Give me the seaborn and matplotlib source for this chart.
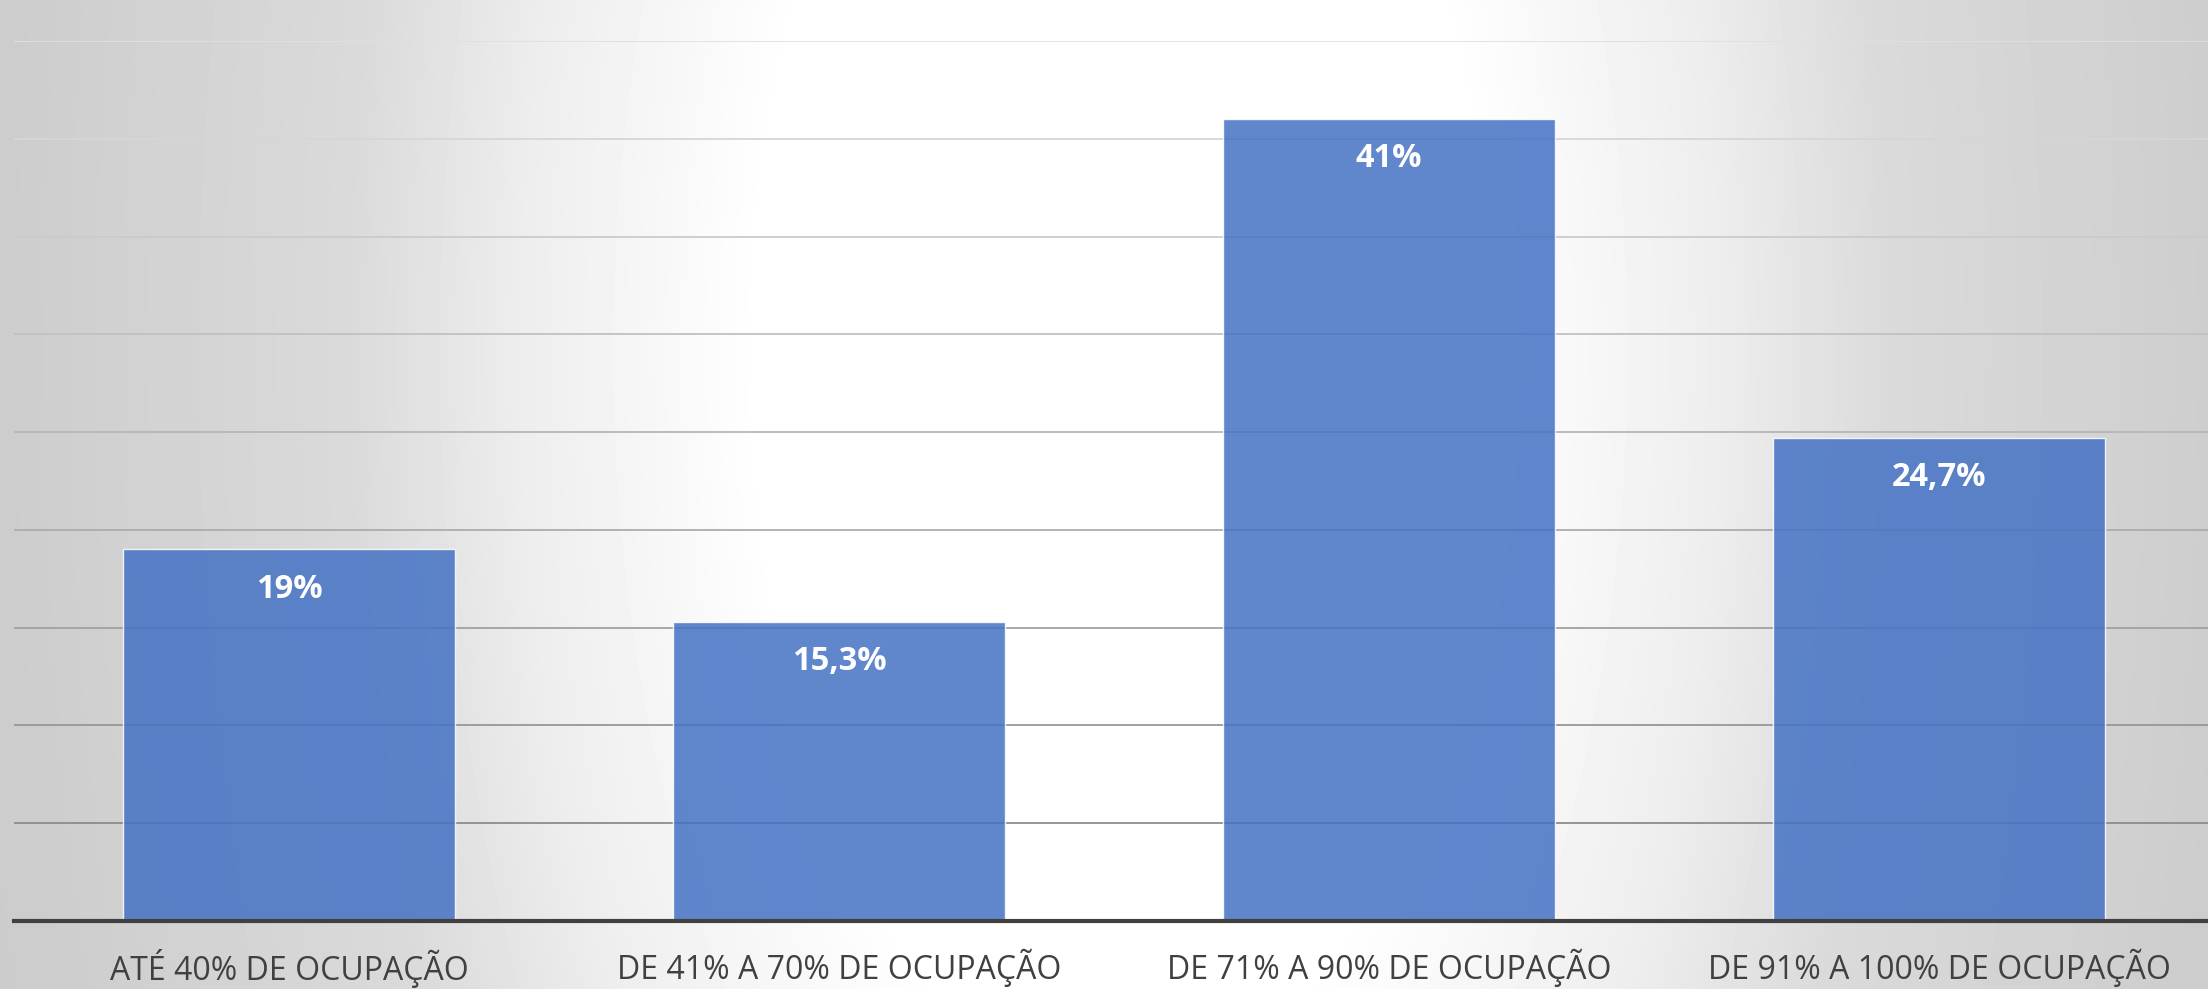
import numpy as np
import pandas as pd
import matplotlib
matplotlib.use("Agg")
import matplotlib.pyplot as plt
import seaborn as sns

# ---- data ----
categories = ["ATÉ 40% DE OCUPAÇÃO", "DE 41% A 70% DE OCUPAÇÃO",
              "DE 71% A 90% DE OCUPAÇÃO", "DE 91% A 100% DE OCUPAÇÃO"]
values = [19.0, 15.3, 41.0, 24.7]
value_labels = ["19%", "15,3%", "41%", "24,7%"]
grid_levels = [5, 10, 15, 20, 25, 30, 35, 40, 45]

sns.set_theme(style="white")
plt.rcParams['font.family'] = ['Open Sans', 'DejaVu Sans']

W, H, DPI = 2208, 989, 100
fig = plt.figure(figsize=(W / DPI, H / DPI), dpi=DPI)

# ---- radial gradient background ----
bg = fig.add_axes([0, 0, 1, 1], zorder=-10)
yy, xx = np.mgrid[0:H, 0:W]
d = np.sqrt((xx - 1120.0) ** 2 + ((yy - 350.0) * 0.5) ** 2)
val = np.interp(d, [0, 360, 600, 770, 1100, 1400], [1, 1, 0.93, 0.855, 0.805, 0.78])
bg.imshow(val, cmap="gray", vmin=0, vmax=1, aspect="auto",
          extent=[0, W, H, 0], interpolation="bilinear")
bg.set_axis_off()

# ---- main axes ----
ax = fig.add_axes([14 / W, 68 / H, 2200 / W, 880 / H])
ax.set_facecolor("none")

df = pd.DataFrame({"cat": categories, "val": values})
sns.barplot(data=df, x="cat", y="val", color="#4472C4", saturation=1,
            width=0.604, alpha=0.85, edgecolor=(1, 1, 1, 0.3), linewidth=1.0,
            ax=ax, zorder=2)

# gridlines, darker toward the bottom
n = len(grid_levels)
for i, g in enumerate(grid_levels):
    shade = 0.55 + (0.88 - 0.55) * i / (n - 1)
    ax.axhline(g, color=str(shade), lw=1.3, zorder=1)

ax.set_ylim(0, 45)
ax.set_xlim(-0.5, 3.5)
ax.set_yticks([])
ax.set_xlabel("")
ax.set_ylabel("")
for s in ["top", "left", "right"]:
    ax.spines[s].set_visible(False)
ax.spines["bottom"].set_color("#404040")
ax.spines["bottom"].set_linewidth(3.0)
ax.spines["bottom"].set_zorder(5)

ax.tick_params(axis="x", length=0, pad=34, labelsize=23, labelcolor="#404040")
for lab in ax.get_xticklabels():
    lab.set_verticalalignment("center")

for i, (v, t) in enumerate(zip(values, value_labels)):
    ax.annotate(t, xy=(i, v), xytext=(0, -28.5), textcoords="offset points",
                ha="center", va="center", color="white",
                fontsize=23.5, fontweight="bold", zorder=6)

fig.savefig("out.png", dpi=DPI)
